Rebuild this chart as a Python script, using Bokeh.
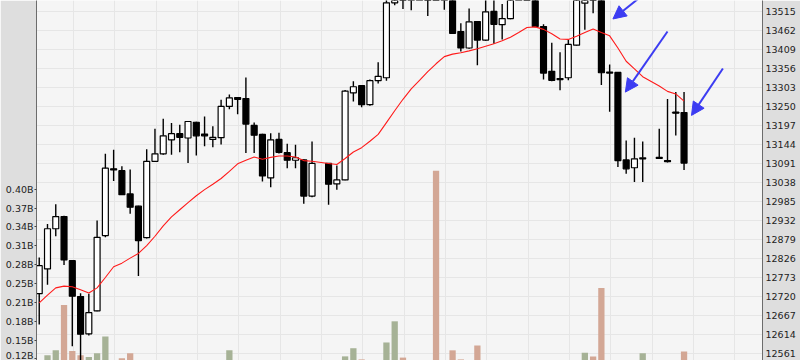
from bokeh.plotting import figure
from bokeh.models import Range1d, LinearAxis, FixedTicker, Arrow, NormalHead, ColumnDataSource, Grid
from bokeh.embed import file_html
from bokeh.resources import INLINE

# trading-day slots (slots 34 and 74 are market holidays)
days = [0, 1, 2, 3, 4, 5, 6, 7, 8, 9,
        10, 11, 12, 13, 14, 15, 16, 17, 18, 19,
        20, 21, 22, 23, 24, 25, 26, 27, 28, 29,
        30, 31, 32, 33,
        35, 36, 37, 38, 39, 40, 41, 42, 43,
        44, 45, 46, 47, 48, 49, 50, 51, 52, 53,
        54, 55, 56, 57, 58, 59, 60, 61, 62, 63,
        64, 65, 66, 67, 68, 69, 70, 71, 72, 73,
        75, 76, 77, 78]

opens = [12729, 12798, 12910, 12944, 12821, 12721, 12617, 12681, 12891, 13077,
         13072, 13007, 12973, 12885, 13098, 13119, 13158, 13175, 13163, 13207,
         13174, 13159, 13164, 13251, 13276, 13273, 13198, 13173, 13052, 13159,
         13122, 13101, 13102, 13001,
         13092, 13035, 13046, 13289, 13309, 13256, 13323, 13331, 13540,
         13600, 13560, 13592, 13620, 13640, 13565, 13605, 13460, 13414, 13488,
         13436, 13516, 13479, 13496, 13570, 13600, 13585, 13474, 13349, 13329,
         13331, 13422, 13539, 13580, 13560, 13347, 13346, 13102, 13080, 13105,
         13109, 13100, 13235, 13234]
highs = [12830, 12923, 12978, 12946, 12823, 12730, 12729, 12933, 13119, 13130,
         13084, 13075, 12974, 13132, 13189, 13217, 13205, 13200, 13210, 13208,
         13223, 13196, 13270, 13284, 13277, 13332, 13206, 13175, 13176, 13178,
         13147, 13144, 13104, 13153,
         13093, 13086, 13297, 13321, 13311, 13326, 13374, 13565, 13590,
         13612, 13605, 13640, 13632, 13662, 13625, 13615, 13483, 13524, 13489,
         13550, 13555, 13537, 13585, 13620, 13630, 13595, 13480, 13429, 13402,
         13436, 13575, 13570, 13600, 13575, 13368, 13347, 13156, 13164, 13153,
         13189, 13272, 13291, 13291]
lows = [12643, 12754, 12889, 12809, 12582, 12530, 12612, 12680, 12886, 13043,
        13004, 12952, 12778, 12883, 13097, 13116, 13116, 13123, 13093, 13114,
        13140, 13137, 13145, 13243, 13229, 13121, 13121, 13042, 13026, 13120,
        13079, 13079, 12980, 12998,
        12977, 13019, 13045, 13265, 13249, 13253, 13315, 13323, 13533,
        13523, 13519, 13560, 13503, 13560, 13521, 13454, 13404, 13412, 13366,
        13434, 13426, 13438, 13494, 13555, 13560, 13472, 13326, 13321, 13296,
        13324, 13420, 13465, 13511, 13311, 13236, 13082, 13063, 13040, 13040,
        13105, 13095, 13170, 13074]
closes = [12807, 12910, 12944, 12823, 12722, 12616, 12676, 12886, 13079, 13074,
          13005, 12970, 12877, 13098, 13119, 13169, 13175, 13165, 13209, 13169,
          13169, 13165, 13251, 13275, 13271, 13202, 13171, 13057, 13158, 13123,
          13101, 13108, 13001, 13092,
          13034, 13046, 13294, 13306, 13256, 13323, 13335, 13540, 13572,
          13560, 13592, 13625, 13585, 13575, 13610, 13455, 13414, 13487, 13436,
          13515, 13480, 13496, 13570, 13600, 13590, 13474, 13344, 13324, 13326,
          13424, 13560, 13552, 13550, 13345, 13344, 13100, 13077, 13105, 13108,
          13106, 13097, 13232, 13093]
# volume in billions of shares
volumes = [0.100, 0.126, 0.134, 0.209, 0.133, 0.126, 0.123, 0.129, 0.157, 0.105,
           0.121, 0.129, 0.110, 0.112, 0.098, 0.104, 0.090, 0.085, 0.100, 0.092,
           0.088, 0.082, 0.108, 0.134, 0.095, 0.112, 0.090, 0.105, 0.100, 0.088,
           0.092, 0.085, 0.110, 0.100,
           0.095, 0.090, 0.124, 0.1375, 0.119, 0.112, 0.105, 0.147, 0.182,
           0.122, 0.110, 0.105, 0.112, 0.431, 0.108, 0.134, 0.119, 0.110, 0.142,
           0.105, 0.100, 0.095, 0.105, 0.110, 0.100, 0.112, 0.108, 0.102, 0.098,
           0.100, 0.112, 0.130, 0.124, 0.237, 0.110, 0.108, 0.102, 0.105, 0.129,
           0.098, 0.110, 0.100, 0.132]
# moving average line
ma_line = [12703, 12725, 12745, 12750, 12748, 12740, 12731, 12745, 12774, 12804,
           12814, 12828, 12841, 12863, 12889, 12918, 12943, 12963, 12983, 13002,
           13019, 13034, 13050, 13070, 13091, 13101, 13110, 13104, 13109, 13113,
           13113, 13110, 13100, 13098,
           13092, 13089, 13106, 13124, 13136, 13154, 13173, 13206, 13239,
           13271, 13300, 13324, 13348, 13370, 13390, 13397, 13401, 13406, 13412,
           13419, 13426, 13434, 13444, 13457, 13471, 13473, 13466, 13454, 13439,
           13438, 13447, 13457, 13467, 13457, 13448, 13414, 13377, 13356, 13334,
           13308, 13293, 13286, 13266]

price_ticks = [12561, 12614, 12667, 12720, 12773, 12826, 12879, 12932, 12985, 13038,
               13091, 13144, 13197, 13250, 13303, 13356, 13409, 13462, 13515]
vol_ticks = [0.120, 0.151, 0.182, 0.213, 0.244, 0.276, 0.307, 0.338, 0.369, 0.400]
vol_tick_labels = ["0.12B", "0.15B", "0.18B", "0.21B", "0.25B", "0.28B", "0.31B", "0.34B", "0.37B", "0.40B"]
week_slots = [4, 9, 14, 19, 24, 29, 34, 39, 44, 49, 54, 59, 64, 69, 74, 79, 84]

UP_FILL, DOWN_FILL = "white", "black"
VOL_UP, VOL_DOWN = "#a6b296", "#d3a795"
ARROW = "#3c3cf2"

up = [c >= o for o, c in zip(opens, closes)]
src = ColumnDataSource(dict(
    x=days, o=opens, h=highs, l=lows, c=closes,
    top=[max(o, c) for o, c in zip(opens, closes)],
    bot=[min(o, c) for o, c in zip(opens, closes)],
    fill=[UP_FILL if u else DOWN_FILL for u in up],
    vol=volumes,
    vcol=[VOL_UP if u else VOL_DOWN for u in up],
))

p = figure(width=800, height=360,
           x_range=Range1d(-0.33, 87.49), y_range=Range1d(12542.5, 13546.5),
           output_backend="svg", toolbar_location=None,
           x_axis_location=None, y_axis_location=None,
           min_border_left=36, min_border_right=38, min_border_top=0, min_border_bottom=0,
           background_fill_color="#f5f5f5", border_fill_color="#dedede",
           outline_line_color=None)
p.grid.visible = False
p.extra_y_ranges = {"vol": Range1d(0.11719, 0.71259)}

p.add_layout(Grid(dimension=0, ticker=FixedTicker(ticks=[w + 0.13 for w in week_slots]),
                  grid_line_color="#e6e6e6", grid_line_width=1))
p.add_layout(Grid(dimension=1, ticker=FixedTicker(ticks=price_ticks),
                  grid_line_color="#e6e6e6", grid_line_width=1))

font = "DejaVu Sans"
raxis = LinearAxis(ticker=FixedTicker(ticks=price_ticks))
raxis.axis_line_color = "#6c6c6c"
raxis.major_tick_line_color = None
raxis.major_tick_out = 0
raxis.major_tick_in = 0
raxis.minor_tick_line_color = None
raxis.major_label_standoff = 3
raxis.major_label_text_font = font
raxis.major_label_text_font_size = "9.5px"
raxis.major_label_text_color = "#222222"
p.add_layout(raxis, "right")

laxis = LinearAxis(y_range_name="vol", ticker=FixedTicker(ticks=vol_ticks),
                   major_label_overrides={t: s for t, s in zip(vol_ticks, vol_tick_labels)})
laxis.axis_line_color = "#6c6c6c"
laxis.major_tick_line_color = "#444444"
laxis.major_tick_out = 2
laxis.major_tick_in = 0
laxis.minor_tick_line_color = None
laxis.major_label_standoff = 1
laxis.major_label_text_font = font
laxis.major_label_text_font_size = "9.5px"
laxis.major_label_text_color = "#222222"
p.add_layout(laxis, "left")

# volume
p.vbar(x="x", top="vol", bottom=0, width=0.76, fill_color="vcol", line_color=None,
       y_range_name="vol", source=src)
# candles
p.segment(x0="x", y0="h", x1="x", y1="l", line_color="black", line_width=1.4, source=src)
p.vbar(x="x", top="top", bottom="bot", width=0.72, fill_color="fill", line_color="black",
       line_width=1.2, source=src)
# moving average
p.line(days, ma_line, line_color="#ff1a1a", line_width=1.1)

# arrows (data coordinates: slot, price)
for xs, ys, xe, ye in [(75.2, 13602, 69.4, 13495), (76.0, 13460, 70.9, 13291), (82.7, 13357, 78.9, 13226)]:
    p.add_layout(Arrow(end=NormalHead(size=13, fill_color=ARROW, line_color=ARROW),
                       x_start=xs, y_start=ys, x_end=xe, y_end=ye,
                       line_color=ARROW, line_width=2))

open("out.html", "w").write(file_html(p, INLINE))
